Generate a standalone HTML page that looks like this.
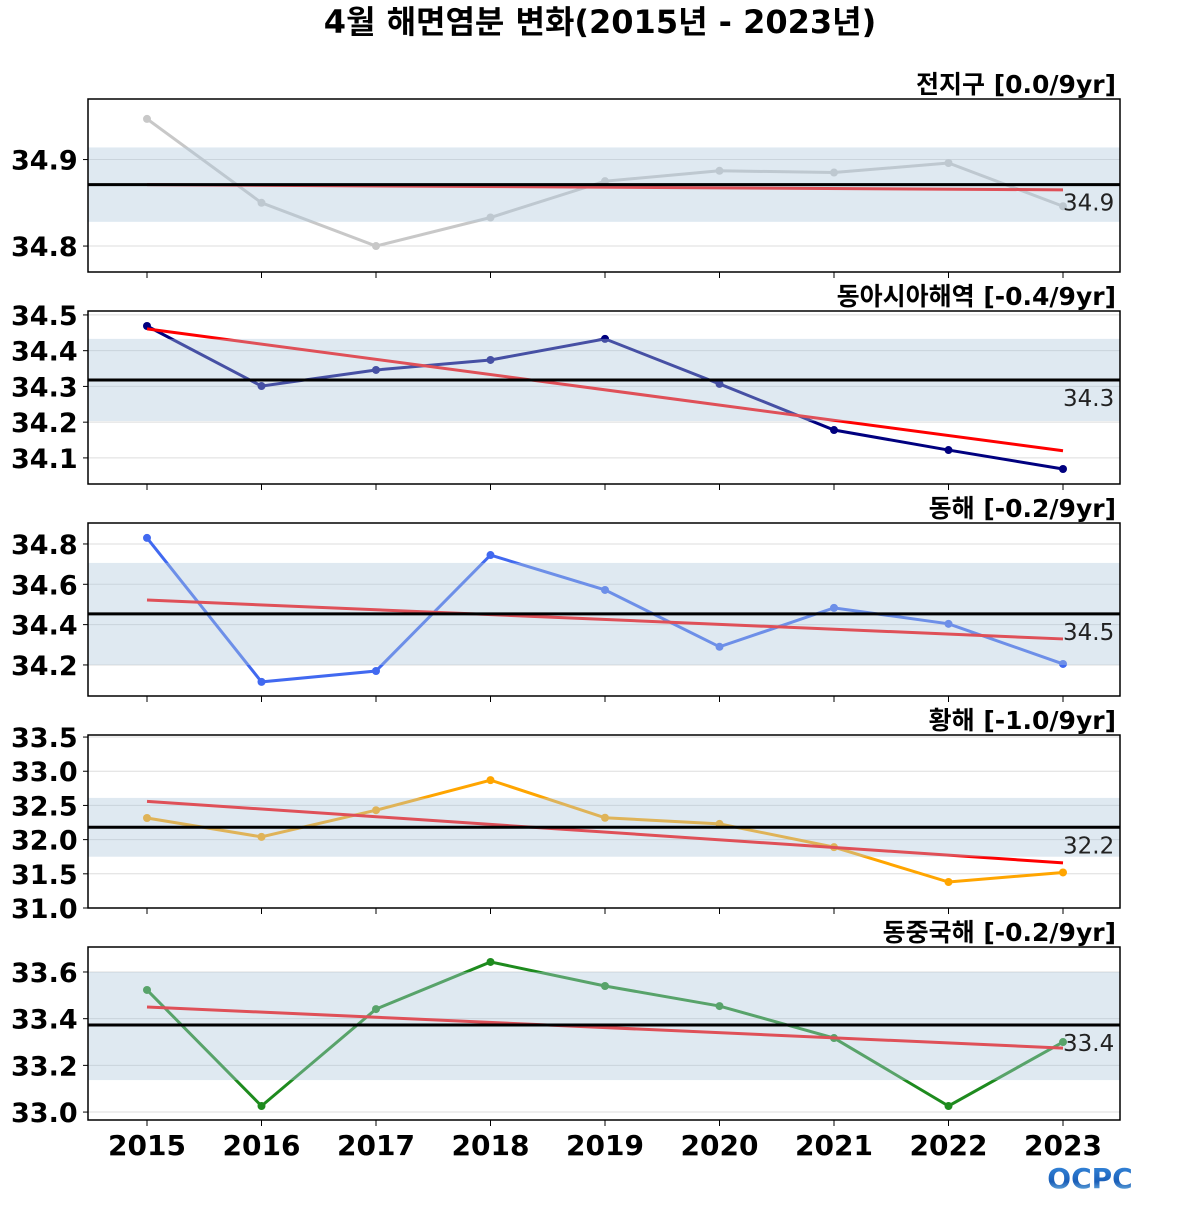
<!DOCTYPE html>
<html><head><meta charset="utf-8">
<style>
html,body{margin:0;padding:0;background:#fff;}
svg text{font-family:"DejaVu Sans","Liberation Sans","Noto Sans CJK KR",sans-serif;}
</style></head>
<body>
<svg id="chart" width="1200" height="1200" viewBox="0 0 1200 1200" xmlns="http://www.w3.org/2000/svg">
<text x="600" y="33" text-anchor="middle" font-size="32" font-weight="bold" fill="#000">4월 해면염분 변화(2015년 - 2023년)</text>
<defs><linearGradient id="lg" x1="0" y1="0" x2="0" y2="1"><stop offset="0" stop-color="#3a8ee0"/><stop offset="0.6" stop-color="#1b5fb8"/><stop offset="1" stop-color="#8fd0f0"/></linearGradient></defs>
<text x="1090" y="1188" text-anchor="middle" font-size="28" font-weight="bold" fill="url(#lg)">OCPC</text>
</svg>
<script>
const years = [2015,2016,2017,2018,2019,2020,2021,2022,2023];
const titles = ["전지구 [0.0/9yr]","동아시아해역 [-0.4/9yr]","동해 [-0.2/9yr]","황해 [-1.0/9yr]","동중국해 [-0.2/9yr]"];
const seriesGlobal = [34.947,34.85,34.80,34.833,34.875,34.887,34.885,34.896,34.846];
const seriesEastAsia = [34.469,34.301,34.346,34.374,34.433,34.307,34.178,34.122,34.069];
const seriesEastSea = [34.83,34.116,34.17,34.745,34.572,34.29,34.483,34.404,34.205];
const seriesYellowSea = [32.316,32.04,32.43,32.87,32.32,32.23,31.89,31.38,31.52];
const seriesEastChinaSea = [33.523,33.026,33.441,33.643,33.54,33.454,33.317,33.026,33.30];
const means = [34.871,34.318,34.453,32.18,33.373];
const meanLabels = ["34.9","34.3","34.5","32.2","33.4"];
const bandLow = [34.828,34.203,34.20,31.75,33.137];
const bandHigh = [34.914,34.433,34.706,32.61,33.60];
const trendStart = [34.871,34.461,34.522,32.56,33.45];
const trendEnd = [34.865,34.120,34.329,31.66,33.274];
const ticks = [[34.8,34.9],[34.1,34.2,34.3,34.4,34.5],[34.2,34.4,34.6,34.8],[31.0,31.5,32.0,32.5,33.0,33.5],[33.0,33.2,33.4,33.6]];
const tickFmt = [1,1,1,1,1];
const ylims = [[34.77,34.97],[34.027,34.511],[34.046,34.904],[31.0,33.53],[32.966,33.707]];
const allSeries = [seriesGlobal,seriesEastAsia,seriesEastSea,seriesYellowSea,seriesEastChinaSea];
const colors = ["#c8c8c8","#00007f","#4169f0","#ffa500","#1e8b1e"];
const names = ["global","east-asia","east-sea","yellow-sea","east-china-sea"];
const svg = document.getElementById('chart');
const NS = "http://www.w3.org/2000/svg";
const L=88,R=1120,tops=[99,311,523,735,947],H=173;
function mk(tag,attrs,parent){const e=document.createElementNS(NS,tag);for(const k in attrs)e.setAttribute(k,attrs[k]);(parent||svg).appendChild(e);return e;}
function xs(i){return 147+i*(1063-147)/(years.length-1);}
for(let p=0;p<5;p++){
  const T=tops[p],B=T+H,lo=ylims[p][0],hi=ylims[p][1];
  const ys=v=>B-(v-lo)/(hi-lo)*H;
  const g=mk('g',{});
  
  
  ticks[p].forEach(t=>{
    const gl=mk('line',{x1:L,x2:R,y1:ys(t),y2:ys(t),stroke:'#dddddd','stroke-width':1},g);
    
    
    mk('line',{x1:L-5,x2:L,y1:ys(t),y2:ys(t),stroke:'#000','stroke-width':1},g);
    const tl=mk('text',{x:11,y:ys(t)+10,'font-size':27,'font-weight':'bold',fill:'#000'},g);
    tl.textContent=t.toFixed(tickFmt[p]);
    
    
  });
  const s=allSeries[p];
  const pts=s.map((v,i)=>xs(i)+','+ys(v)).join(' ');
  const ln=mk('polyline',{points:pts,fill:'none',stroke:colors[p],'stroke-width':3},g);
  
  
  s.forEach((v,i)=>{
    const c=mk('circle',{cx:xs(i),cy:ys(v),r:4,fill:colors[p]},g);
    
    
  });
  const tr=mk('line',{x1:xs(0),y1:ys(trendStart[p]),x2:xs(years.length-1),y2:ys(trendEnd[p]),stroke:'#ff0000','stroke-width':3},g);
  
  
  const bd=mk('rect',{x:L,y:ys(bandHigh[p]),width:R-L,height:ys(bandLow[p])-ys(bandHigh[p]),fill:'rgba(175,200,220,0.4)'},g);
  
  
  const ml=mk('line',{x1:L,x2:R,y1:ys(means[p]),y2:ys(means[p]),stroke:'#000','stroke-width':3},g);
  
  
  const mt=mk('text',{x:1063,y:ys(means[p])+26,'font-size':23,fill:'#222'},g);
  mt.textContent=meanLabels[p];
  
  
  const fr=mk('rect',{x:L,y:T,width:R-L,height:H,fill:'none',stroke:'#000','stroke-width':1.5},g);
  
  
  years.forEach((y,i)=>mk('line',{x1:xs(i),x2:xs(i),y1:B,y2:B+6,stroke:'#000','stroke-width':1},g));
  const tt=mk('text',{x:1116,y:T-6,'text-anchor':'end','font-size':25,'font-weight':'bold',fill:'#000'},g);
  tt.textContent=titles[p];
  
  
}
years.forEach((y,i)=>{
  const t=mk('text',{x:xs(i),y:1155,'text-anchor':'middle','font-size':28,'font-weight':'bold',fill:'#000'});
  t.textContent=y;
  
  
});
</script>
</body></html>
